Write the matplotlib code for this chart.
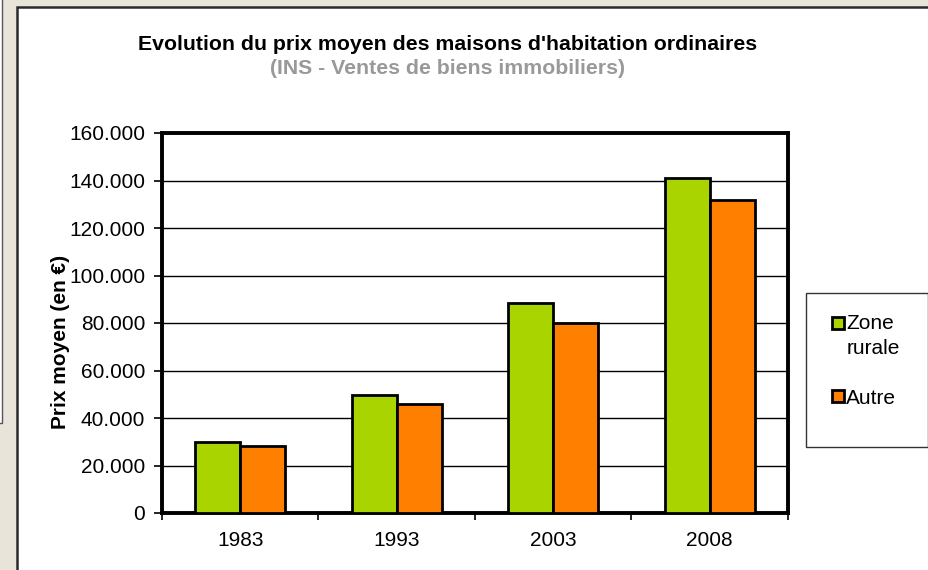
import matplotlib.pyplot as plt
from matplotlib.patches import Rectangle
from matplotlib.ticker import FuncFormatter, MultipleLocator

annees = ['1983', '1993', '2003', '2008']
zone_rurale = [29800, 49700, 88300, 140900]
autre = [28300, 45900, 79800, 131800]

vert = '#AAD400'
orange = '#FF7F00'
fond = '#E8E4DA'

plt.rcParams['font.family'] = ['Liberation Sans', 'DejaVu Sans']

W, H = 929, 570
fig = plt.figure(figsize=(W / 100, H / 100), dpi=100)
fig.patch.set_facecolor(fond)

def px(x, y):
    return x / W, 1 - y / H

# panneau blanc + petit cadre a gauche (capture d'ecran)
fig.patches.append(Rectangle(px(17, 600), (W + 20 - 17) / W, (600 - 7) / H,
                             transform=fig.transFigure, facecolor='white',
                             edgecolor='#2a2a2a', linewidth=1.8, zorder=-2))
fig.patches.append(Rectangle(px(-10, 423), 12.5 / W, 433 / H,
                             transform=fig.transFigure, facecolor='white',
                             edgecolor='#555555', linewidth=1.0, zorder=-2))

ax = fig.add_axes([162 / W, 1 - 513 / H, (788 - 162) / W, (513 - 133) / H])
ax.set_facecolor('white')

x = list(range(len(annees)))
w = 0.2875
ax.bar([i - w / 2 for i in x], zone_rurale, width=w, color=vert,
       edgecolor='black', linewidth=2, label='Zone\nrurale', zorder=3)
ax.bar([i + w / 2 for i in x], autre, width=w, color=orange,
       edgecolor='black', linewidth=2, label='Autre', zorder=3)

ax.set_xlim(-0.5, 3.5)
ax.set_ylim(0, 160000)
ax.yaxis.set_major_locator(MultipleLocator(20000))
ax.yaxis.set_major_formatter(FuncFormatter(lambda v, p: f'{int(v):,}'.replace(',', '.')))
ax.grid(axis='y', color='black', linewidth=1, zorder=1)
ax.set_axisbelow(True)

ax.set_xticks(x)
ax.set_xticklabels(annees)
ax.set_xticks([-0.5, 0.5, 1.5, 2.5, 3.5], minor=True)
ax.tick_params(axis='x', which='major', length=0, pad=13, labelsize=15)
ax.tick_params(axis='x', which='minor', length=5, width=1.2, direction='out')
ax.tick_params(axis='y', length=6, width=1.2, pad=6, labelsize=15)

for s in ax.spines.values():
    s.set_linewidth(2.8)
    s.set_color('black')

ax.set_ylabel('Prix moyen (en €)', fontsize=15, fontweight='bold')
ax.yaxis.set_label_coords(-0.147, 0.45)

fig.text(448 / W, 1 - 45 / H, "Evolution du prix moyen des maisons d'habitation ordinaires",
         ha='center', va='center', fontsize=15.3, fontweight='bold', color='black')
fig.text(448 / W, 1 - 68 / H, '(INS - Ventes de biens immobiliers)',
         ha='center', va='center', fontsize=15.3, fontweight='bold', color='#999999')

# legende
fig.patches.append(Rectangle(px(806, 447), (928 - 806) / W, (447 - 293) / H,
                             transform=fig.transFigure, facecolor='white',
                             edgecolor='#333333', linewidth=1.0, zorder=-1))
leg = fig.legend(loc='upper left', bbox_to_anchor=px(822, 304), frameon=False,
                 fontsize=15, handlelength=0.55, handleheight=0.5,
                 handletextpad=0.12, labelspacing=1.45, borderpad=0)
t0 = leg.get_texts()[0]
t0.set_linespacing(1.4)
t0.set_multialignment('left')
for h in leg.legend_handles:
    h.set_linewidth(2)
# carre de "Zone rurale" aligne sur la premiere ligne
h0 = leg.legend_handles[0]
h0.set_y(h0.get_y() + 10)

fig.savefig('out.png', dpi=100, facecolor=fond)
